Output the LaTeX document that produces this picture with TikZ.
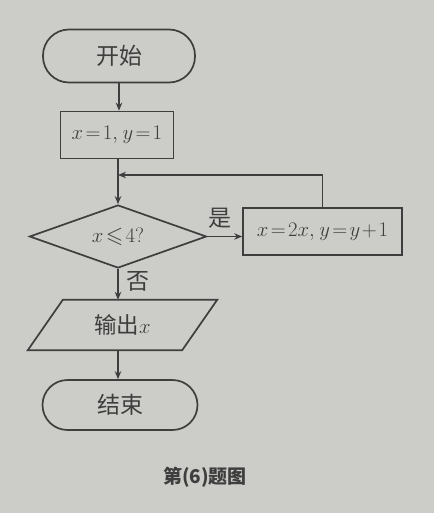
\documentclass[tikz,border=0pt]{standalone}
\usepackage{amssymb}
\usepackage{fontspec}
\setmainfont{Latin Modern Roman}
\newfontfamily\cjk{Noto Sans CJK SC}
\usetikzlibrary{shapes.geometric,arrows.meta}
\definecolor{bgc}{RGB}{204,204,200}
\definecolor{ink}{RGB}{62,62,62}
\newcommand{\tightmath}{\thickmuskip=2mu plus 1mu\medmuskip=1.5mu\thinmuskip=2mu}
\begin{document}
\begin{tikzpicture}[x=1pt,y=-1pt,
  every node/.style={font=\fontsize{22.5}{26}\selectfont\tightmath, text=ink},
  line/.style={draw=ink, line width=1.7pt},
  arr/.style={line, -{Stealth[length=8pt,width=6.5pt]}},
  zh/.style={font=\cjk\fontsize{23}{26}\selectfont},
  term/.style={line, rounded corners=26pt, minimum width=152pt, minimum height=53pt, inner sep=0pt},
  procbox/.style={line, minimum height=47pt, inner sep=0pt},
  decide/.style={line, diamond, minimum width=177pt, minimum height=63pt, inner sep=0pt, aspect=2.8}]
\fill[bgc] (0,0) rectangle (434,513);
\useasboundingbox (0,0) rectangle (434,513);
\node[term, zh] (start) at (119,56) {开始};
\node[procbox, minimum width=113pt] (init) at (117,135) {$x=1,\,y=1$};
\coordinate (merge) at (118,175);
\node[decide] (dec) at (118,236.5) {$x\leqslant 4?$};
\node[procbox, minimum width=159pt] (proc) at (322.5,231.5) {$x=2x,\,y=y+1$};
\node[minimum width=154pt, minimum height=50pt, inner sep=0pt] (out) at (122.5,325) {{\cjk 输出}$x$};
\draw[line] ([xshift=17.5pt]out.north west) -- ([xshift=17.5pt]out.north east)
  -- ([xshift=-17.5pt]out.south east) -- ([xshift=-17.5pt]out.south west) -- cycle;
\node[term, zh, minimum width=155pt, minimum height=50pt, rounded corners=25pt] (end) at (120,405) {结束};
\node[font=\cjk\bfseries\fontsize{19}{22}\selectfont] (cap) at (205,477) {第(6)题图};
\draw[arr] (start.south) -- (init.north -| start.south);
\draw[line] (init.south -| merge) -- (merge);
\draw[arr] (merge) -- (dec.north);
\draw[arr] (proc.north) |- (merge);
\draw[arr] (dec.east) -- node[zh, above=4pt, pos=0.35] (yes) {是} (dec.east -| proc.west);
\draw[arr] (dec.south) -- node[zh, right=4pt, pos=0.4] (no) {否} (out.north -| dec.south);
\draw[arr] (out.south -| dec.south) -- (end.north -| dec.south);
\end{tikzpicture}
\end{document}
